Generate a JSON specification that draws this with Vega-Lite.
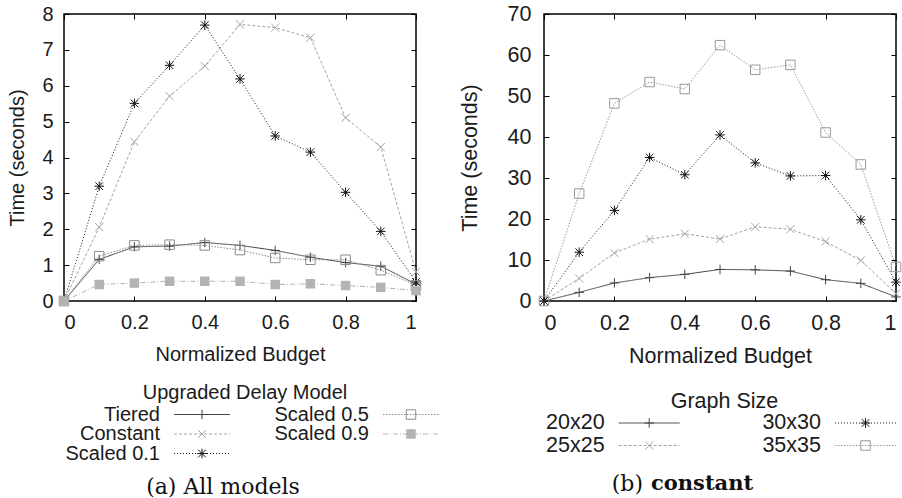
{
  "$schema": "https://vega.github.io/schema/vega-lite/v6.json",
  "background": "white",
  "padding": {"left": 6, "top": 2, "right": 4, "bottom": 0},
  "config": {
    "view": {"stroke": "black", "strokeWidth": 1.5},
    "font": "Liberation Sans",
    "axis": {
      "grid": false,
      "domain": false,
      "tickColor": "black",
      "tickSize": -5,
      "tickWidth": 1,
      "labelFont": "Liberation Sans",
      "labelColor": "#1a1a1a",
      "labelFontSize": 20,
      "titleFont": "Liberation Sans",
      "titleFontWeight": "normal",
      "titleColor": "#1a1a1a",
      "titleFontSize": 20
    },
    "text": {"font": "Liberation Sans", "color": "#1a1a1a"}
  },
  "datasets": {
    "budgetA": [
      {"budget": 0, "model": "Tiered", "seconds": 0},
      {"budget": 0.1, "model": "Tiered", "seconds": 1.16},
      {"budget": 0.2, "model": "Tiered", "seconds": 1.51},
      {"budget": 0.3, "model": "Tiered", "seconds": 1.53},
      {"budget": 0.4, "model": "Tiered", "seconds": 1.63},
      {"budget": 0.5, "model": "Tiered", "seconds": 1.55},
      {"budget": 0.6, "model": "Tiered", "seconds": 1.41},
      {"budget": 0.7, "model": "Tiered", "seconds": 1.22},
      {"budget": 0.8, "model": "Tiered", "seconds": 1.07},
      {"budget": 0.9, "model": "Tiered", "seconds": 0.97},
      {"budget": 1, "model": "Tiered", "seconds": 0.47},
      {"budget": 0, "model": "Constant", "seconds": 0},
      {"budget": 0.1, "model": "Constant", "seconds": 2.06},
      {"budget": 0.2, "model": "Constant", "seconds": 4.44},
      {"budget": 0.3, "model": "Constant", "seconds": 5.71},
      {"budget": 0.4, "model": "Constant", "seconds": 6.55},
      {"budget": 0.5, "model": "Constant", "seconds": 7.71},
      {"budget": 0.6, "model": "Constant", "seconds": 7.62},
      {"budget": 0.7, "model": "Constant", "seconds": 7.34},
      {"budget": 0.8, "model": "Constant", "seconds": 5.11},
      {"budget": 0.9, "model": "Constant", "seconds": 4.29},
      {"budget": 1, "model": "Constant", "seconds": 0.81},
      {"budget": 0, "model": "Scaled 0.1", "seconds": 0},
      {"budget": 0.1, "model": "Scaled 0.1", "seconds": 3.2},
      {"budget": 0.2, "model": "Scaled 0.1", "seconds": 5.51},
      {"budget": 0.3, "model": "Scaled 0.1", "seconds": 6.57},
      {"budget": 0.4, "model": "Scaled 0.1", "seconds": 7.69},
      {"budget": 0.5, "model": "Scaled 0.1", "seconds": 6.19},
      {"budget": 0.6, "model": "Scaled 0.1", "seconds": 4.6},
      {"budget": 0.7, "model": "Scaled 0.1", "seconds": 4.15},
      {"budget": 0.8, "model": "Scaled 0.1", "seconds": 3.03},
      {"budget": 0.9, "model": "Scaled 0.1", "seconds": 1.94},
      {"budget": 1, "model": "Scaled 0.1", "seconds": 0.53},
      {"budget": 0, "model": "Scaled 0.5", "seconds": 0},
      {"budget": 0.1, "model": "Scaled 0.5", "seconds": 1.25},
      {"budget": 0.2, "model": "Scaled 0.5", "seconds": 1.55},
      {"budget": 0.3, "model": "Scaled 0.5", "seconds": 1.57},
      {"budget": 0.4, "model": "Scaled 0.5", "seconds": 1.55},
      {"budget": 0.5, "model": "Scaled 0.5", "seconds": 1.42},
      {"budget": 0.6, "model": "Scaled 0.5", "seconds": 1.2},
      {"budget": 0.7, "model": "Scaled 0.5", "seconds": 1.15},
      {"budget": 0.8, "model": "Scaled 0.5", "seconds": 1.15},
      {"budget": 0.9, "model": "Scaled 0.5", "seconds": 0.86},
      {"budget": 1, "model": "Scaled 0.5", "seconds": 0.44},
      {"budget": 0, "model": "Scaled 0.9", "seconds": 0},
      {"budget": 0.1, "model": "Scaled 0.9", "seconds": 0.46},
      {"budget": 0.2, "model": "Scaled 0.9", "seconds": 0.5},
      {"budget": 0.3, "model": "Scaled 0.9", "seconds": 0.55},
      {"budget": 0.4, "model": "Scaled 0.9", "seconds": 0.55},
      {"budget": 0.5, "model": "Scaled 0.9", "seconds": 0.55},
      {"budget": 0.6, "model": "Scaled 0.9", "seconds": 0.46},
      {"budget": 0.7, "model": "Scaled 0.9", "seconds": 0.48},
      {"budget": 0.8, "model": "Scaled 0.9", "seconds": 0.43},
      {"budget": 0.9, "model": "Scaled 0.9", "seconds": 0.38},
      {"budget": 1, "model": "Scaled 0.9", "seconds": 0.29}
    ],
    "budgetB": [
      {"budget": 0, "size": "20x20", "seconds": 0},
      {"budget": 0.1, "size": "20x20", "seconds": 2.1},
      {"budget": 0.2, "size": "20x20", "seconds": 4.4},
      {"budget": 0.3, "size": "20x20", "seconds": 5.7},
      {"budget": 0.4, "size": "20x20", "seconds": 6.5},
      {"budget": 0.5, "size": "20x20", "seconds": 7.7},
      {"budget": 0.6, "size": "20x20", "seconds": 7.6},
      {"budget": 0.7, "size": "20x20", "seconds": 7.3},
      {"budget": 0.8, "size": "20x20", "seconds": 5.2},
      {"budget": 0.9, "size": "20x20", "seconds": 4.3},
      {"budget": 1, "size": "20x20", "seconds": 1.0},
      {"budget": 0, "size": "25x25", "seconds": 0},
      {"budget": 0.1, "size": "25x25", "seconds": 5.5},
      {"budget": 0.2, "size": "25x25", "seconds": 11.7},
      {"budget": 0.3, "size": "25x25", "seconds": 15.1},
      {"budget": 0.4, "size": "25x25", "seconds": 16.4},
      {"budget": 0.5, "size": "25x25", "seconds": 15.1},
      {"budget": 0.6, "size": "25x25", "seconds": 18.1},
      {"budget": 0.7, "size": "25x25", "seconds": 17.5},
      {"budget": 0.8, "size": "25x25", "seconds": 14.5},
      {"budget": 0.9, "size": "25x25", "seconds": 9.9},
      {"budget": 1, "size": "25x25", "seconds": 1.8},
      {"budget": 0, "size": "30x30", "seconds": 0},
      {"budget": 0.1, "size": "30x30", "seconds": 11.9},
      {"budget": 0.2, "size": "30x30", "seconds": 22.1},
      {"budget": 0.3, "size": "30x30", "seconds": 35.0},
      {"budget": 0.4, "size": "30x30", "seconds": 30.8},
      {"budget": 0.5, "size": "30x30", "seconds": 40.5},
      {"budget": 0.6, "size": "30x30", "seconds": 33.7},
      {"budget": 0.7, "size": "30x30", "seconds": 30.5},
      {"budget": 0.8, "size": "30x30", "seconds": 30.6},
      {"budget": 0.9, "size": "30x30", "seconds": 19.8},
      {"budget": 1, "size": "30x30", "seconds": 4.6},
      {"budget": 0, "size": "35x35", "seconds": 0},
      {"budget": 0.1, "size": "35x35", "seconds": 26.2},
      {"budget": 0.2, "size": "35x35", "seconds": 48.2},
      {"budget": 0.3, "size": "35x35", "seconds": 53.4},
      {"budget": 0.4, "size": "35x35", "seconds": 51.7},
      {"budget": 0.5, "size": "35x35", "seconds": 62.4},
      {"budget": 0.6, "size": "35x35", "seconds": 56.4},
      {"budget": 0.7, "size": "35x35", "seconds": 57.6},
      {"budget": 0.8, "size": "35x35", "seconds": 41.1},
      {"budget": 0.9, "size": "35x35", "seconds": 33.3},
      {"budget": 1, "size": "35x35", "seconds": 8.3}
    ],
    "keyA": [
      {"model": "Tiered", "col": 1, "row": 1},
      {"model": "Constant", "col": 1, "row": 2},
      {"model": "Scaled 0.1", "col": 1, "row": 3},
      {"model": "Scaled 0.5", "col": 2, "row": 1},
      {"model": "Scaled 0.9", "col": 2, "row": 2}
    ],
    "keyB": [
      {"size": "20x20", "col": 1, "row": 1},
      {"size": "25x25", "col": 1, "row": 2},
      {"size": "30x30", "col": 2, "row": 1},
      {"size": "35x35", "col": 2, "row": 2}
    ]
  },
  "columns": 2,
  "bounds": "flush",
  "spacing": {"row": 20, "column": 128},
  "resolve": {
    "scale": {"x": "independent", "y": "independent", "color": "independent", "shape": "independent", "strokeDash": "independent"}
  },
  "concat": [
    {
      "width": 352,
      "height": 287,
      "data": {"name": "budgetA"},
      "resolve": {"axis": {"x": "independent", "y": "independent"}},
      "layer": [
        {
          "mark": {"type": "line", "strokeWidth": 1},
          "encoding": {
            "x": {"field": "budget", "type": "quantitative", "scale": {"domain": [0, 1]},
              "axis": {"orient": "bottom", "values": [0, 0.2, 0.4, 0.6, 0.8, 1], "format": "~g", "labelPadding": 16,
                "title": "Normalized Budget", "titleY": 53, "titleBaseline": "middle"}},
            "y": {"field": "seconds", "type": "quantitative", "scale": {"domain": [0, 8]},
              "axis": {"orient": "left", "values": [0, 1, 2, 3, 4, 5, 6, 7, 8], "labelPadding": 16,
                "title": "Time (seconds)", "titleX": -40.5, "titleY": 143.5, "titleBaseline": "alphabetic"}},
            "color": {"field": "model", "type": "nominal", "legend": null,
              "scale": {"domain": ["Tiered", "Constant", "Scaled 0.1", "Scaled 0.5", "Scaled 0.9"],
                "range": ["#444444", "#a3a3a3", "#111111", "#8a8a8a", "#b3b3b3"]}},
            "strokeDash": {"field": "model", "type": "nominal", "legend": null,
              "scale": {"domain": ["Tiered", "Constant", "Scaled 0.1", "Scaled 0.5", "Scaled 0.9"],
                "range": [[1, 0], [3, 2], [1, 2], [1.5, 1.5], [5, 2, 1, 2]]}}
          }
        },
        {
          "transform": [{"filter": "datum.model !== 'Scaled 0.9'"}],
          "mark": {"type": "point", "filled": false, "size": 90, "strokeWidth": 1, "opacity": 1},
          "encoding": {
            "x": {"field": "budget", "type": "quantitative",
              "axis": {"orient": "top", "values": [0, 0.2, 0.4, 0.6, 0.8, 1], "labels": false, "title": null}},
            "y": {"field": "seconds", "type": "quantitative",
              "axis": {"orient": "right", "values": [0, 1, 2, 3, 4, 5, 6, 7, 8], "labels": false, "title": null}},
            "color": {"field": "model", "type": "nominal", "legend": null},
            "shape": {"field": "model", "type": "nominal", "legend": null,
              "scale": {"domain": ["Tiered", "Constant", "Scaled 0.1", "Scaled 0.5"],
                "range": ["M-1,0H1M0,-1V1", "M-0.85,-0.85L0.85,0.85M-0.85,0.85L0.85,-0.85",
                  "M-1,0H1M0,-1V1M-0.8,-0.8L0.8,0.8M-0.8,0.8L0.8,-0.8", "square"]}}
          }
        },
        {
          "transform": [{"filter": "datum.model === 'Scaled 0.9'"}],
          "mark": {"type": "point", "filled": true, "shape": "square", "size": 90, "opacity": 1},
          "encoding": {
            "x": {"field": "budget", "type": "quantitative", "axis": null},
            "y": {"field": "seconds", "type": "quantitative", "axis": null},
            "color": {"field": "model", "type": "nominal", "legend": null}
          }
        }
      ]
    },
    {
      "width": 352,
      "height": 287,
      "data": {"name": "budgetB"},
      "resolve": {"axis": {"x": "independent", "y": "independent"}},
      "layer": [
        {
          "mark": {"type": "line", "strokeWidth": 1},
          "encoding": {
            "x": {"field": "budget", "type": "quantitative", "scale": {"domain": [0, 1]},
              "axis": {"orient": "bottom", "values": [0, 0.2, 0.4, 0.6, 0.8, 1], "format": "~g", "labelPadding": 16,
                "labelFontSize": 21.5, "titleFontSize": 21.5,
                "title": "Normalized Budget", "titleY": 55.7, "titleBaseline": "middle"}},
            "y": {"field": "seconds", "type": "quantitative", "scale": {"domain": [0, 70]},
              "axis": {"orient": "left", "values": [0, 10, 20, 30, 40, 50, 60, 70], "labelPadding": 18,
                "labelFontSize": 21.5, "titleFontSize": 21.5,
                "title": "Time (seconds)", "titleX": -67.5, "titleY": 143.5, "titleBaseline": "alphabetic"}},
            "color": {"field": "size", "type": "nominal", "legend": null,
              "scale": {"domain": ["20x20", "25x25", "30x30", "35x35"],
                "range": ["#444444", "#a3a3a3", "#111111", "#999999"]}},
            "strokeDash": {"field": "size", "type": "nominal", "legend": null,
              "scale": {"domain": ["20x20", "25x25", "30x30", "35x35"],
                "range": [[1, 0], [3, 2], [1, 2], [1.5, 1.5]]}}
          }
        },
        {
          "mark": {"type": "point", "filled": false, "size": 90, "strokeWidth": 1, "opacity": 1},
          "encoding": {
            "x": {"field": "budget", "type": "quantitative",
              "axis": {"orient": "top", "values": [0, 0.2, 0.4, 0.6, 0.8, 1], "labels": false, "title": null}},
            "y": {"field": "seconds", "type": "quantitative",
              "axis": {"orient": "right", "values": [0, 10, 20, 30, 40, 50, 60, 70], "labels": false, "title": null}},
            "color": {"field": "size", "type": "nominal", "legend": null},
            "shape": {"field": "size", "type": "nominal", "legend": null,
              "scale": {"domain": ["20x20", "25x25", "30x30", "35x35"],
                "range": ["M-1,0H1M0,-1V1", "M-0.85,-0.85L0.85,0.85M-0.85,0.85L0.85,-0.85",
                  "M-1,0H1M0,-1V1M-0.8,-0.8L0.8,0.8M-0.8,0.8L0.8,-0.8", "square"]}}
          }
        }
      ]
    },
    {
      "width": 352,
      "height": 175,
      "view": {"stroke": null},
      "layer": [
        {
          "data": {"name": "keyA"},
          "mark": {"type": "rule", "strokeWidth": 1, "xOffset": 14, "x2Offset": 70},
          "encoding": {
            "x": {"field": "col", "type": "ordinal", "axis": null,
              "scale": {"type": "point", "domain": [1, 2], "range": [96, 305], "padding": 0}},
            "x2": {"field": "col"},
            "y": {"field": "row", "type": "ordinal", "axis": null,
              "scale": {"type": "point", "domain": [1, 2, 3], "range": [93.5, 132.5], "padding": 0}},
            "color": {"field": "model", "type": "nominal", "legend": null,
              "scale": {"domain": ["Tiered", "Constant", "Scaled 0.1", "Scaled 0.5", "Scaled 0.9"],
                "range": ["#444444", "#a3a3a3", "#111111", "#8a8a8a", "#b3b3b3"]}},
            "strokeDash": {"field": "model", "type": "nominal", "legend": null,
              "scale": {"domain": ["Tiered", "Constant", "Scaled 0.1", "Scaled 0.5", "Scaled 0.9"],
                "range": [[1, 0], [3, 2], [1, 2], [1.5, 1.5], [5, 2, 1, 2]]}}
          }
        },
        {
          "data": {"name": "keyA"},
          "transform": [{"filter": "datum.model !== 'Scaled 0.9'"}],
          "mark": {"type": "point", "filled": false, "size": 90, "strokeWidth": 1, "opacity": 1, "xOffset": 42},
          "encoding": {
            "x": {"field": "col", "type": "ordinal"},
            "y": {"field": "row", "type": "ordinal"},
            "color": {"field": "model", "type": "nominal", "legend": null},
            "shape": {"field": "model", "type": "nominal", "legend": null,
              "scale": {"domain": ["Tiered", "Constant", "Scaled 0.1", "Scaled 0.5"],
                "range": ["M-1,0H1M0,-1V1", "M-0.85,-0.85L0.85,0.85M-0.85,0.85L0.85,-0.85",
                  "M-1,0H1M0,-1V1M-0.8,-0.8L0.8,0.8M-0.8,0.8L0.8,-0.8", "square"]}}
          }
        },
        {
          "data": {"name": "keyA"},
          "transform": [{"filter": "datum.model === 'Scaled 0.9'"}],
          "mark": {"type": "point", "filled": true, "shape": "square", "size": 90, "opacity": 1, "xOffset": 42},
          "encoding": {
            "x": {"field": "col", "type": "ordinal"},
            "y": {"field": "row", "type": "ordinal"},
            "color": {"field": "model", "type": "nominal", "legend": null}
          }
        },
        {
          "data": {"name": "keyA"},
          "mark": {"type": "text", "align": "right", "baseline": "middle", "fontSize": 20},
          "encoding": {
            "x": {"field": "col", "type": "ordinal"},
            "y": {"field": "row", "type": "ordinal"},
            "text": {"field": "model"}
          }
        },
        {
          "data": {"values": [{"heading": "Upgraded Delay Model"}]},
          "mark": {"type": "text", "baseline": "middle", "fontSize": 20, "dx": 5, "dy": -15.5},
          "encoding": {"text": {"field": "heading"}}
        },
        {
          "data": {"values": [{"caption": "(a) All models"}]},
          "mark": {"type": "text", "baseline": "middle", "font": "DejaVu Serif", "fontSize": 22, "color": "#111111", "dx": -17, "dy": 78.5},
          "encoding": {"text": {"field": "caption"}}
        }
      ]
    },
    {
      "width": 352,
      "height": 175,
      "view": {"stroke": null},
      "layer": [
        {
          "data": {"name": "keyB"},
          "mark": {"type": "rule", "strokeWidth": 1, "xOffset": 14, "x2Offset": 75},
          "encoding": {
            "x": {"field": "col", "type": "ordinal", "axis": null,
              "scale": {"type": "point", "domain": [1, 2], "range": [60.7, 277], "padding": 0}},
            "x2": {"field": "col"},
            "y": {"field": "row", "type": "ordinal", "axis": null,
              "scale": {"type": "point", "domain": [1, 2], "range": [102, 124.5], "padding": 0}},
            "color": {"field": "size", "type": "nominal", "legend": null,
              "scale": {"domain": ["20x20", "25x25", "30x30", "35x35"],
                "range": ["#444444", "#a3a3a3", "#111111", "#999999"]}},
            "strokeDash": {"field": "size", "type": "nominal", "legend": null,
              "scale": {"domain": ["20x20", "25x25", "30x30", "35x35"],
                "range": [[1, 0], [3, 2], [1, 2], [1.5, 1.5]]}}
          }
        },
        {
          "data": {"name": "keyB"},
          "mark": {"type": "point", "filled": false, "size": 90, "strokeWidth": 1, "opacity": 1, "xOffset": 44.5},
          "encoding": {
            "x": {"field": "col", "type": "ordinal"},
            "y": {"field": "row", "type": "ordinal"},
            "color": {"field": "size", "type": "nominal", "legend": null},
            "shape": {"field": "size", "type": "nominal", "legend": null,
              "scale": {"domain": ["20x20", "25x25", "30x30", "35x35"],
                "range": ["M-1,0H1M0,-1V1", "M-0.85,-0.85L0.85,0.85M-0.85,0.85L0.85,-0.85",
                  "M-1,0H1M0,-1V1M-0.8,-0.8L0.8,0.8M-0.8,0.8L0.8,-0.8", "square"]}}
          }
        },
        {
          "data": {"name": "keyB"},
          "mark": {"type": "text", "align": "right", "baseline": "middle", "fontSize": 21.5},
          "encoding": {
            "x": {"field": "col", "type": "ordinal"},
            "y": {"field": "row", "type": "ordinal"},
            "text": {"field": "size"}
          }
        },
        {
          "data": {"values": [{"heading": "Graph Size"}]},
          "mark": {"type": "text", "baseline": "middle", "fontSize": 21.5, "dx": 4.5, "dy": -6.5},
          "encoding": {"text": {"field": "heading"}}
        },
        {
          "data": {"values": [{"label": "(b)"}]},
          "mark": {"type": "text", "align": "right", "baseline": "middle", "font": "DejaVu Serif", "fontSize": 22, "color": "#111111", "dx": -77, "dy": 75.5},
          "encoding": {"text": {"field": "label"}}
        },
        {
          "data": {"values": [{"label": "constant"}]},
          "mark": {"type": "text", "align": "left", "baseline": "middle", "font": "DejaVu Serif", "fontSize": 21, "fontWeight": "bold", "color": "#111111", "dx": -69, "dy": 75.5},
          "encoding": {"text": {"field": "label"}}
        }
      ]
    }
  ]
}
